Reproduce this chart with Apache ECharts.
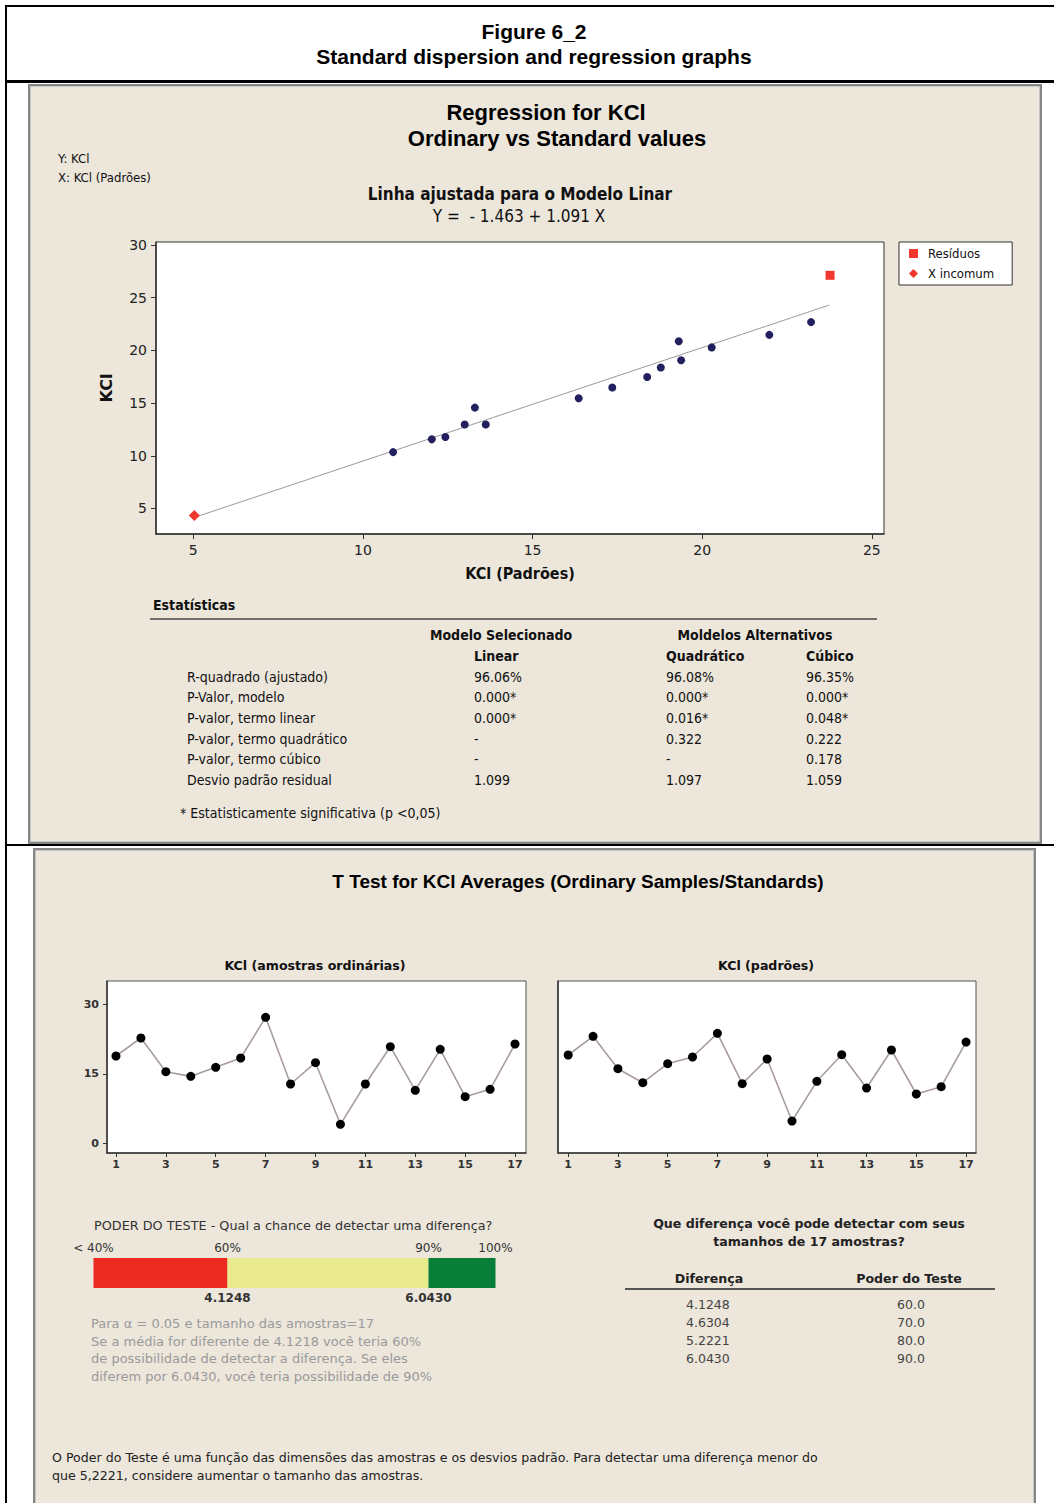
<!DOCTYPE html>
<html><head><meta charset="utf-8">
<script src="https://cdn.jsdelivr.net/npm/echarts@6/dist/echarts.min.js"></script>
<style>
html,body{margin:0;padding:0;background:#fff;}
#wrap{position:relative;width:1054px;height:1503px;overflow:hidden;background:#fff;}
.ln{position:absolute;background:#000;}
.panel{position:absolute;background:#ece6db;border:2px solid #868686;box-shadow:inset 0 0 0 1px #c4c4c4;}
#chart{position:absolute;left:0;top:0;width:1054px;height:1503px;}
</style></head>
<body>
<div id="wrap">
  <div class="ln" style="left:5px;top:5px;width:1049px;height:2px"></div>
  <div class="ln" style="left:5px;top:5px;width:2px;height:1498px"></div>
  <div class="ln" style="left:5px;top:80px;width:1049px;height:3px"></div>
  <div class="ln" style="left:5px;top:844px;width:1049px;height:2px"></div>
  <div class="panel" style="left:28px;top:84px;width:1010px;height:756px"></div>
  <div class="panel" style="left:33px;top:848px;width:999px;height:700px"></div>
  <div id="chart"></div>
</div>
<script>
// ---------------- DATA ----------------
// Regression scatter (x = KCl standards, y = KCl ordinary samples)
const stdX = [10.89, 12.03, 12.43, 13.00, 13.30, 13.62, 16.36, 17.35, 18.38, 18.78, 19.31, 19.38, 20.28, 21.98, 23.21];
const ordY = [10.35, 11.56, 11.78, 12.96, 14.57, 12.96, 15.46, 16.47, 17.48, 18.37, 20.87, 19.07, 20.28, 21.47, 22.68];
const residualX = [23.77];
const residualY = [27.12];
const unusualX = [5.03];
const unusualY = [4.33];
const fitLineX = [5.03, 23.75];
const fitLineY = [4.15, 24.30];
const scatterXTicks = [5, 10, 15, 20, 25];
const scatterYTicks = [5, 10, 15, 20, 25, 30];

// Statistics table
const statRows = ['R-quadrado (ajustado)', 'P-Valor, modelo', 'P-valor, termo linear', 'P-valor, termo quadrático', 'P-valor, termo cúbico', 'Desvio padrão residual'];
const linearCol = ['96.06%', '0.000*', '0.000*', '-', '-', '1.099'];
const quadCol = ['96.08%', '0.000*', '0.016*', '0.322', '-', '1.097'];
const cubicCol = ['96.35%', '0.000*', '0.048*', '0.222', '0.178', '1.059'];

// Run charts
const sampleIdx = [1, 2, 3, 4, 5, 6, 7, 8, 9, 10, 11, 12, 13, 14, 15, 16, 17];
const ordinary = [18.84, 22.73, 15.46, 14.45, 16.40, 18.41, 27.19, 12.80, 17.40, 4.10, 12.80, 20.85, 11.44, 20.29, 10.06, 11.66, 21.43];
const standards = [19.06, 23.09, 16.10, 13.08, 17.18, 18.63, 23.74, 12.86, 18.20, 4.81, 13.38, 19.12, 11.94, 20.14, 10.64, 12.22, 21.86];
const meanOrdinary = 16.25;
const meanStandards = 16.25;
const runXTicks = [1, 3, 5, 7, 9, 11, 13, 15, 17];
const runYTicks = [0, 15, 30];

// Power of the test
const powerTicks = [40, 60, 90, 100];
const powerTickLabels = ['< 40%', '60%', '90%', '100%'];
const powerBandEnds = [60, 90, 100];
const diffTicks = [60, 90];
const diffTickLabels = ['4.1248', '6.0430'];
const powerDiffs = ['4.1248', '4.6304', '5.2221', '6.0430'];
const powerPct = ['60.0', '70.0', '80.0', '90.0'];

// ---------------- STYLE ----------------
const ARIAL = '"Liberation Sans", Arial, sans-serif';
const COND = '"DejaVu Sans Condensed", "Liberation Sans Narrow", "Liberation Sans", sans-serif';
const DV = '"DejaVu Sans", "Liberation Sans", sans-serif';

function txt(x, y, text, o) {
  o = o || {};
  return {
    type: 'text', x: x, y: y, z: 100, silent: true,
    style: {
      text: text, fill: o.color || '#111', fontSize: o.size || 13,
      fontFamily: o.family || COND, fontWeight: o.weight || 'normal',
      align: o.align || 'left', verticalAlign: 'middle'
    }
  };
}
function hline(x1, x2, y, color, w) {
  return { type: 'line', z: 100, silent: true, shape: { x1: x1, y1: y, x2: x2, y2: y }, style: { stroke: color, lineWidth: w } };
}

const g = [];
// figure header
g.push(txt(534, 31, 'Figure 6_2', { family: ARIAL, weight: 'bold', size: 21, align: 'center', color: '#000' }));
g.push(txt(534, 56, 'Standard dispersion and regression graphs', { family: ARIAL, weight: 'bold', size: 21, align: 'center', color: '#000' }));
// panel 1 titles
g.push(txt(546, 112, 'Regression for KCl', { family: ARIAL, weight: 'bold', size: 22, align: 'center', color: '#000' }));
g.push(txt(557, 138, 'Ordinary vs Standard values', { family: ARIAL, weight: 'bold', size: 22, align: 'center', color: '#000' }));
g.push(txt(58, 158, 'Y: KCl', { size: 13 }));
g.push(txt(58, 177, 'X: KCl (Padrões)', { size: 13 }));
g.push(txt(520, 194, 'Linha ajustada para o Modelo Linar', { weight: 'bold', size: 17, align: 'center' }));
g.push(txt(519, 216, 'Y =  - 1.463 + 1.091 X', { size: 17, align: 'center' }));
// stats table
g.push(txt(153, 605, 'Estatísticas', { weight: 'bold', size: 14 }));
g.push(hline(150, 877, 619, '#6e6e6e', 2));
g.push(txt(501, 635, 'Modelo Selecionado', { weight: 'bold', size: 14, align: 'center' }));
g.push(txt(755, 635, 'Moldelos Alternativos', { weight: 'bold', size: 14, align: 'center' }));
g.push(txt(474, 656, 'Linear', { weight: 'bold', size: 14 }));
g.push(txt(666, 656, 'Quadrático', { weight: 'bold', size: 14 }));
g.push(txt(806, 656, 'Cúbico', { weight: 'bold', size: 14 }));
const rowY = [677, 697, 718, 739, 759, 780];
statRows.forEach(function (r, i) {
  g.push(txt(187, rowY[i], r, { size: 14 }));
  g.push(txt(474, rowY[i], linearCol[i], { size: 14 }));
  g.push(txt(666, rowY[i], quadCol[i], { size: 14 }));
  g.push(txt(806, rowY[i], cubicCol[i], { size: 14 }));
});
g.push(txt(180, 813, '* Estatisticamente significativa (p <0,05)', { size: 14 }));
// panel 2
g.push(txt(578, 881, 'T Test for KCl Averages (Ordinary Samples/Standards)', { family: ARIAL, weight: 'bold', size: 19, align: 'center', color: '#000' }));
g.push(txt(315, 965, 'KCl (amostras ordinárias)', { family: DV, weight: 'bold', size: 12.6, align: 'center' }));
g.push(txt(766, 965, 'KCl (padrões)', { family: DV, weight: 'bold', size: 12.6, align: 'center' }));
g.push(txt(94, 1225, 'PODER DO TESTE - Qual a chance de detectar uma diferença?', { family: DV, size: 12.8, color: '#333' }));
const grayLines = ['Para α = 0.05 e tamanho das amostras=17', 'Se a média for diferente de 4.1218 você teria 60%', 'de possibilidade de detectar a diferença. Se eles', 'diferem por 6.0430, você teria possibilidade de 90%'];
[1323, 1341, 1358, 1376].forEach(function (y, i) { g.push(txt(91, y, grayLines[i], { family: DV, size: 13, color: '#9a9a9a' })); });
g.push(txt(809, 1223, 'Que diferença você pode detectar com seus', { family: DV, weight: 'bold', size: 12.6, align: 'center', color: '#222' }));
g.push(txt(809, 1241, 'tamanhos de 17 amostras?', { family: DV, weight: 'bold', size: 12.6, align: 'center', color: '#222' }));
g.push(txt(709, 1278, 'Diferença', { family: DV, weight: 'bold', size: 12.6, align: 'center', color: '#222' }));
g.push(txt(909, 1278, 'Poder do Teste', { family: DV, weight: 'bold', size: 12.6, align: 'center', color: '#222' }));
g.push(hline(625, 995, 1289, '#555', 2));
[1304, 1322, 1340, 1358].forEach(function (y, i) {
  g.push(txt(686, y, powerDiffs[i], { family: DV, size: 12.5, color: '#444' }));
  g.push(txt(897, y, powerPct[i], { family: DV, size: 12.5, color: '#444' }));
});
g.push(txt(52, 1457, 'O Poder do Teste é uma função das dimensões das amostras e os desvios padrão. Para detectar uma diferença menor do', { family: DV, size: 12.6, color: '#222' }));
g.push(txt(52, 1475, 'que 5,2221, considere aumentar o tamanho das amostras.', { family: DV, size: 12.6, color: '#222' }));

// ---------------- CHART ----------------
const chart = echarts.init(document.getElementById('chart'), null, { renderer: 'svg' });

function runXAxis(gi, mn, mx) {
  return {
    type: 'value', gridIndex: gi, min: mn, max: mx, splitLine: { show: false },
    axisLine: { onZero: false, lineStyle: { color: '#333', width: 1.5 } },
    axisTick: { customValues: runXTicks, length: 4, lineStyle: { color: '#333' } },
    axisLabel: { customValues: runXTicks, margin: 6, fontSize: 11, fontWeight: 'bold', fontFamily: DV, color: '#333' }
  };
}
function runYAxis(gi, showLabels) {
  return {
    type: 'value', gridIndex: gi, min: -2.09, max: 35.03, splitLine: { show: false },
    axisLine: { onZero: false, lineStyle: { color: '#333', width: 1.5 } },
    axisTick: { show: showLabels, customValues: runYTicks, length: 4, lineStyle: { color: '#333' } },
    axisLabel: { show: showLabels, customValues: runYTicks, margin: 8, fontSize: 11, fontWeight: 'bold', fontFamily: DV, color: '#333' }
  };
}
function runSeries(xi, vals, mean) {
  return [
    {
      type: 'line', xAxisIndex: xi, yAxisIndex: xi, silent: true, z: 2,
      data: [[sampleIdx[0], mean], [sampleIdx[sampleIdx.length - 1], mean]],
      symbol: 'none', lineStyle: { color: '#3fae4a', width: 2.5, shadowColor: 'rgba(80,180,90,0.35)', shadowBlur: 6 }
    },
    {
      type: 'line', xAxisIndex: xi, yAxisIndex: xi, silent: true, z: 3,
      data: sampleIdx.map(function (i, k) { return [i, vals[k]]; }),
      symbol: 'circle', symbolSize: 9, itemStyle: { color: '#000', opacity: 1 },
      lineStyle: { color: '#a89c9c', width: 1.6 }
    }
  ];
}

const option = {
  animation: false,
  backgroundColor: 'transparent',
  graphic: { elements: g },
  legend: {
    left: 899, top: 242, orient: 'vertical',
    backgroundColor: '#fff', borderColor: '#333', borderWidth: 1,
    padding: [5, 18, 5, 10], itemGap: 7, itemWidth: 9, itemHeight: 9,
    textStyle: { fontSize: 13, fontFamily: COND, color: '#111', padding: [0, 0, 0, 5] },
    data: [{ name: 'Resíduos', icon: 'rect' }, { name: 'X incomum', icon: 'diamond' }]
  },
  grid: [
    { left: 156, top: 242, width: 728, height: 292, show: true, backgroundColor: '#fff', borderColor: '#333', borderWidth: 1 },
    { left: 107, top: 981, width: 419, height: 172, show: true, backgroundColor: '#fff', borderColor: '#555', borderWidth: 1 },
    { left: 558, top: 981, width: 418, height: 172, show: true, backgroundColor: '#fff', borderColor: '#555', borderWidth: 1 },
    { left: 93.5, top: 1258, width: 402, height: 30 }
  ],
  xAxis: [
    {
      type: 'value', gridIndex: 0, min: 3.90, max: 25.36, splitLine: { show: false },
      name: 'KCl (Padrões)', nameLocation: 'middle', nameGap: 31,
      nameTextStyle: { fontSize: 16, fontWeight: 'bold', fontFamily: COND, color: '#111' },
      axisLine: { onZero: false, lineStyle: { color: '#333', width: 1.5 } },
      axisTick: { customValues: scatterXTicks, length: 5, lineStyle: { color: '#333' } },
      axisLabel: { customValues: scatterXTicks, margin: 9, fontSize: 14, fontFamily: DV, color: '#222' }
    },
    runXAxis(1, 0.64, 17.44),
    runXAxis(2, 0.59, 17.40),
    {
      type: 'value', gridIndex: 3, position: 'top', min: 40, max: 100, splitLine: { show: false },
      axisLine: { show: false }, axisTick: { show: false },
      axisLabel: {
        customValues: powerTicks, margin: 4, fontSize: 12, fontFamily: DV, color: '#333',
        formatter: function (v) { return powerTickLabels[powerTicks.indexOf(v)]; }
      }
    },
    {
      type: 'value', gridIndex: 3, position: 'bottom', min: 40, max: 100, splitLine: { show: false },
      axisLine: { show: false }, axisTick: { show: false },
      axisLabel: {
        customValues: diffTicks, margin: 4, fontSize: 12, fontWeight: 'bold', fontFamily: DV, color: '#333',
        formatter: function (v) { return diffTickLabels[diffTicks.indexOf(v)]; }
      }
    }
  ],
  yAxis: [
    {
      type: 'value', gridIndex: 0, min: 2.58, max: 30.28, splitLine: { show: false },
      name: 'KCl', nameLocation: 'middle', nameGap: 42, nameRotate: 90,
      nameTextStyle: { fontSize: 16, fontWeight: 'bold', fontFamily: DV, color: '#111' },
      axisLine: { onZero: false, lineStyle: { color: '#333', width: 1.5 } },
      axisTick: { customValues: scatterYTicks, length: 5, lineStyle: { color: '#333' } },
      axisLabel: { customValues: scatterYTicks, margin: 9, fontSize: 14, fontFamily: DV, color: '#222' }
    },
    runYAxis(1, true),
    runYAxis(2, false),
    { type: 'category', gridIndex: 3, data: ['poder'], show: false }
  ],
  series: [
    {
      type: 'line', xAxisIndex: 0, yAxisIndex: 0, silent: true, z: 1,
      data: fitLineX.map(function (x, i) { return [x, fitLineY[i]]; }),
      symbol: 'none', lineStyle: { color: '#9a9a9a', width: 1 }
    },
    {
      type: 'scatter', xAxisIndex: 0, yAxisIndex: 0, silent: true,
      data: stdX.map(function (x, i) { return [x, ordY[i]]; }),
      symbol: 'circle', symbolSize: 8, itemStyle: { color: '#22205f', opacity: 1 }
    },
    {
      name: 'Resíduos', type: 'scatter', xAxisIndex: 0, yAxisIndex: 0, silent: true,
      data: residualX.map(function (x, i) { return [x, residualY[i]]; }),
      symbol: 'rect', symbolSize: 9, itemStyle: { color: '#f0382f', opacity: 1 }
    },
    {
      name: 'X incomum', type: 'scatter', xAxisIndex: 0, yAxisIndex: 0, silent: true,
      data: unusualX.map(function (x, i) { return [x, unusualY[i]]; }),
      symbol: 'diamond', symbolSize: 11, itemStyle: { color: '#f0382f', opacity: 1 }
    }
  ].concat(runSeries(1, ordinary, meanOrdinary), runSeries(2, standards, meanStandards), [
    { type: 'bar', xAxisIndex: 3, yAxisIndex: 3, stack: 'p', barWidth: 30, silent: true, data: [powerBandEnds[0]], itemStyle: { color: '#ec2a22' } },
    { type: 'bar', xAxisIndex: 3, yAxisIndex: 3, stack: 'p', barWidth: 30, silent: true, data: [powerBandEnds[1] - powerBandEnds[0]], itemStyle: { color: '#e9e98e' } },
    { type: 'bar', xAxisIndex: 3, yAxisIndex: 3, stack: 'p', barWidth: 30, silent: true, data: [powerBandEnds[2] - powerBandEnds[1]], itemStyle: { color: '#087e39' } }
  ])
};
chart.setOption(option);
</script>
</body></html>
